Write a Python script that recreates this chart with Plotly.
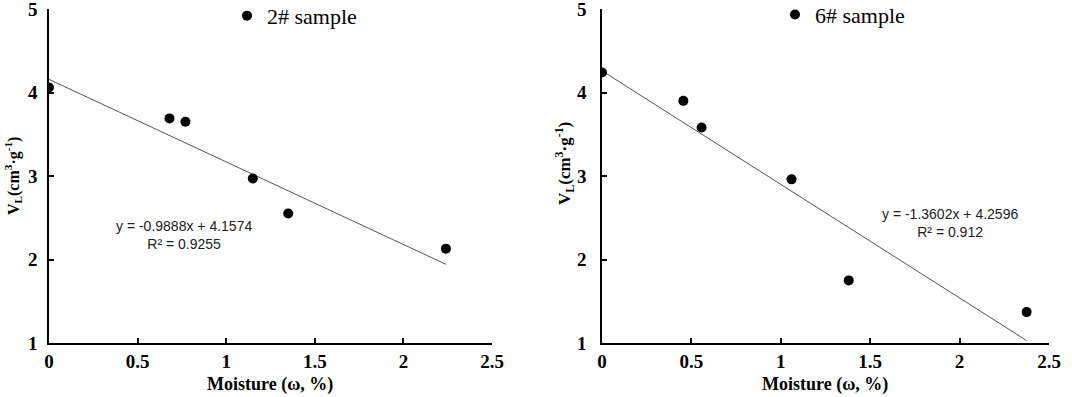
import plotly.graph_objects as go

# Data
x2 = [0.0, 0.68, 0.77, 1.15, 1.35, 2.24]
y2 = [4.06, 3.69, 3.65, 2.97, 2.55, 2.13]
x6 = [0.0, 0.455, 0.557, 1.06, 1.38, 2.375]
y6 = [4.24, 3.90, 3.58, 2.96, 1.75, 1.37]
slope2, icpt2 = -0.9888, 4.1574
slope6, icpt6 = -1.3602, 4.2596
eq2 = "y = -0.9888x + 4.1574<br>R² = 0.9255"
eq6 = "y = -1.3602x + 4.2596<br>R² = 0.912"
xticks = [0, 0.5, 1, 1.5, 2, 2.5]
xticklabels = ["0", "0.5", "1", "1.5", "2", "2.5"]
yticks = [1, 2, 3, 4, 5]

W, H = 1072, 397
serif = "Liberation Serif"

fig = go.Figure()

def trend(xs, m, b):
    xx = [min(xs), max(xs)]
    return xx, [m * v + b for v in xx]

tx, ty = trend(x2, slope2, icpt2)
fig.add_trace(go.Scatter(x=tx, y=ty, mode="lines", line=dict(color="#555555", width=1),
                         showlegend=False, xaxis="x", yaxis="y", hoverinfo="skip"))
fig.add_trace(go.Scatter(x=x2, y=y2, mode="markers", name="2# sample",
                         marker=dict(color="black", size=10), xaxis="x", yaxis="y", legend="legend"))
tx, ty = trend(x6, slope6, icpt6)
fig.add_trace(go.Scatter(x=tx, y=ty, mode="lines", line=dict(color="#555555", width=1),
                         showlegend=False, xaxis="x2", yaxis="y2", hoverinfo="skip"))
fig.add_trace(go.Scatter(x=x6, y=y6, mode="markers", name="6# sample",
                         marker=dict(color="black", size=10), xaxis="x2", yaxis="y2", legend="legend2"))

ydom = [(H - 343) / H, (H - 9) / H]
xd1 = [49 / W, 492 / W]
xd2 = [602 / W, 1049 / W]

xtt = ["<b>%s</b>" % v for v in xticklabels]
ytt = ["<b>%d</b>" % v for v in yticks]

axis_common = dict(showline=True, linecolor="black", linewidth=1.5, ticks="inside",
                   ticklen=5, tickcolor="black", tickwidth=1.5, showgrid=False, zeroline=False,
                   automargin=False, mirror=False, ticklabeloverflow="allow",
                   tickfont=dict(family=serif, size=19, color="black", weight="bold"))

fig.update_layout(
    width=W, height=H, margin=dict(l=0, r=0, t=0, b=0, autoexpand=False),
    plot_bgcolor="white", paper_bgcolor="white",
    xaxis=dict(domain=xd1, range=[0, 2.5], tickvals=xticks, ticktext=xtt,
               anchor="y", ticklabelstandoff=0, **axis_common),
    yaxis=dict(domain=ydom, range=[1, 5], tickvals=yticks, ticktext=ytt, anchor="x",
               ticklabelstandoff=6, **axis_common),
    xaxis2=dict(domain=xd2, range=[0, 2.5], tickvals=xticks, ticktext=xtt,
                anchor="y2", ticklabelstandoff=0, **axis_common),
    yaxis2=dict(domain=ydom, range=[1, 5], tickvals=yticks, ticktext=ytt, anchor="x2",
                ticklabelstandoff=10, **axis_common),
    legend=dict(x=227 / W, y=1.013, xanchor="left", yanchor="top", bgcolor="rgba(0,0,0,0)",
                font=dict(family=serif, size=22, color="black")),
    legend2=dict(x=775 / W, y=1.016, xanchor="left", yanchor="top", bgcolor="rgba(0,0,0,0)",
                 font=dict(family=serif, size=22, color="black")),
    showlegend=True,
)

def ann(text, px, py, font, angle=0):
    fig.add_annotation(text=text, x=px / W, y=1 - py / H, xref="paper", yref="paper",
                       xanchor="center", yanchor="middle", showarrow=False, font=font,
                       align="center", textangle=angle)

ann_font = dict(family="Liberation Sans", size=14, color="#222222")
ann(eq2, 184, 235, ann_font)
ann(eq6, 950, 223, ann_font)
for cx in (270, 825):
    ann("<b>Moisture (ω, %)</b>", cx, 384, dict(family=serif, size=18, color="black"))
ann("<b>V<sub>L</sub>(cm<sup>3</sup>·g<sup>-1</sup>)</b>", 13, 176,
    dict(family=serif, size=16, color="black"), -90)
ann("<b>V<sub>L</sub>(cm<sup>3</sup>·g<sup>-1</sup>)</b>", 564, 164,
    dict(family=serif, size=17, color="black"), -90)

fig.write_html("out.html", config={"displayModeBar": False},
               post_script="document.body.style.margin='0';")
